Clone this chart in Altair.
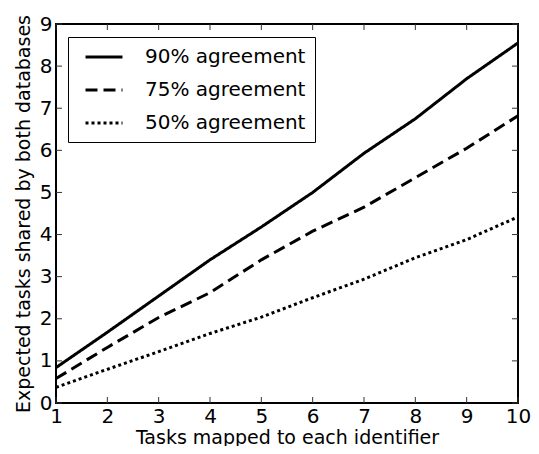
import altair as alt
import pandas as pd

x_vals = [1, 2, 3, 4, 5, 6, 7, 8, 9, 10]
s90 = [0.84, 1.68, 2.54, 3.40, 4.18, 5.00, 5.93, 6.75, 7.70, 8.55]
s75 = [0.58, 1.32, 2.03, 2.62, 3.40, 4.08, 4.65, 5.35, 6.05, 6.82]
s50 = [0.37, 0.80, 1.22, 1.65, 2.04, 2.50, 2.94, 3.45, 3.88, 4.42]
labels = ["90% agreement", "75% agreement", "50% agreement"]
x_ticks = [1, 2, 3, 4, 5, 6, 7, 8, 9, 10]
y_ticks = [0, 1, 2, 3, 4, 5, 6, 7, 8, 9]

rows = []
for lab, ser in zip(labels, [s90, s75, s50]):
    for xv, yv in zip(x_vals, ser):
        rows.append({"x": xv, "y": yv, "series": lab})
df = pd.DataFrame(rows)

W, H = 462, 379
FONT = "DejaVu Sans"

xs = alt.Scale(domain=[1, 10], nice=False, zero=False)
ys = alt.Scale(domain=[0, 9], nice=False)

lines = alt.Chart(df).mark_line(color="black", strokeWidth=3, strokeCap="butt").encode(
    x=alt.X("x:Q", scale=xs, axis=alt.Axis(values=x_ticks, title="Tasks mapped to each identifier",
                                           labelPadding=3, titlePadding=2, labelFlush=False)),
    y=alt.Y("y:Q", scale=ys, axis=alt.Axis(values=y_ticks, title="Expected tasks shared by both databases",
                                           labelPadding=4, titlePadding=6, labelFlush=False)),
    strokeDash=alt.StrokeDash("series:N",
        scale=alt.Scale(domain=labels, range=[[1, 0], [12, 6], [3, 3]]),
        sort=labels,
        legend=alt.Legend(title=None, orient="none", legendX=12, legendY=13,
                          symbolType="M-2,0L2,0", symbolSize=342, symbolStrokeWidth=3,
                          symbolStrokeColor="black", symbolOffset=16,
                          labelFontSize=20, labelFont=FONT, labelLimit=400,
                          labelOffset=30, padding=9, rowPadding=12,
                          strokeColor="black", fillColor="white", labelColor="black")),
)

tdf = pd.DataFrame({"t": x_ticks})
ydf = pd.DataFrame({"t": y_ticks})
tick_color = "#333333"
bt = alt.Chart(tdf).mark_rule(color=tick_color, strokeWidth=1).encode(
    x=alt.X("t:Q", scale=xs), y=alt.value(H), y2=alt.value(H - 6))
tt = alt.Chart(tdf).mark_rule(color=tick_color, strokeWidth=1).encode(
    x=alt.X("t:Q", scale=xs), y=alt.value(0), y2=alt.value(6))
lt = alt.Chart(ydf).mark_rule(color=tick_color, strokeWidth=1).encode(
    y=alt.Y("t:Q", scale=ys), x=alt.value(0), x2=alt.value(6))
rt = alt.Chart(ydf).mark_rule(color=tick_color, strokeWidth=1).encode(
    y=alt.Y("t:Q", scale=ys), x=alt.value(W), x2=alt.value(W - 6))

chart = alt.layer(bt, tt, lt, rt, lines).properties(
    width=W, height=H,
    autosize=alt.AutoSizeParams(type="none"),
    padding={"left": 48, "top": 16, "right": 13, "bottom": 43},
).configure_view(stroke="black", strokeWidth=2).configure_axis(
    grid=False, domain=False, ticks=False,
    labelFont=FONT, labelFontSize=20, labelColor="black",
    titleFont=FONT, titleFontSize=19, titleFontWeight="normal", titleColor="black",
).configure_axisY(labelBaseline="middle")

chart.save("out.html", embed_options={"renderer": "svg", "actions": False})
